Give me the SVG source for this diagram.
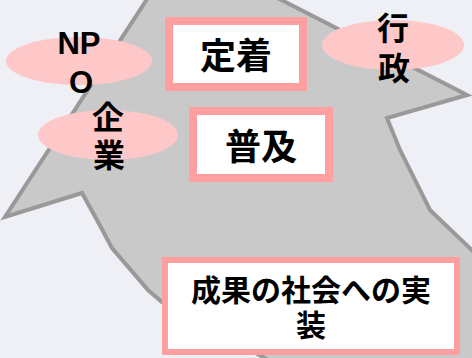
<svg xmlns="http://www.w3.org/2000/svg" width="472" height="358" viewBox="0 0 472 358">
<style>
.bg{fill:#eff0f5}
.arrow{fill:#c9c9c9;stroke:#999999;stroke-width:4;stroke-linejoin:miter}
.box{fill:#ffffff;stroke:#ff9f9f}
.oval{fill:#ffc8c8}
text{font-family:"Liberation Sans","Noto Sans CJK JP",sans-serif;font-weight:bold;fill:#000000;text-anchor:middle}
</style>
<rect class="bg" x="0" y="0" width="472" height="358"/>
<g id="shape">
<polygon class="arrow" points="153,-10 262,-10 467,95 387,118 400,150 430,210 476,254 476,380 305,380 162,302 148,290 112,248 97,220 82,193 5,217"/>
</g>
<g id="node-teichaku">
<rect class="box" x="169" y="21" width="134" height="66" stroke-width="8"/>
<text x="236" y="69" font-size="36">定着</text>
</g>
<g id="node-fukyu">
<rect class="box" x="193" y="111" width="136" height="67" stroke-width="8"/>
<text x="261" y="160" font-size="36">普及</text>
</g>
<g id="node-jisso">
<rect class="box" x="165" y="260" width="292" height="92" stroke-width="6"/>
<text x="311" y="301" font-size="30">成果の社会への実</text>
<text x="311" y="336" font-size="30">装</text>
</g>
<g id="node-npo">
<ellipse class="oval" cx="79" cy="61" rx="73" ry="24"/>
<text x="79" y="54" font-size="31">NP</text>
<text x="81" y="93" font-size="31">O</text>
</g>
<g id="node-kigyo">
<ellipse class="oval" cx="108" cy="135" rx="70" ry="25"/>
<text x="108" y="129" font-size="32">企</text>
<text x="109" y="167" font-size="32">業</text>
</g>
<g id="node-gyosei">
<ellipse class="oval" cx="393" cy="45" rx="71" ry="25"/>
<text x="393" y="40" font-size="32">行</text>
<text x="394" y="80" font-size="32">政</text>
</g>
<g id="connectors"></g>
</svg>
